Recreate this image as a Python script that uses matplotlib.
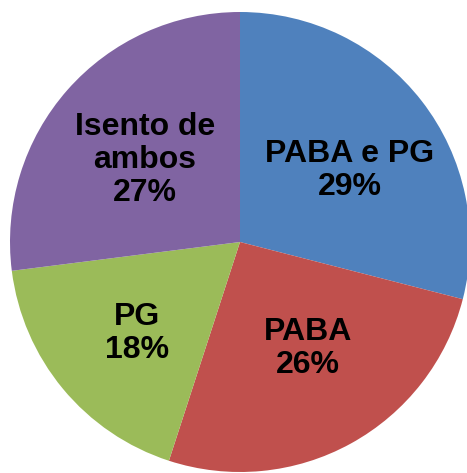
import matplotlib.pyplot as plt

plt.rcParams['font.family'] = ['Liberation Sans', 'DejaVu Sans']

categories = ["PABA e PG", "PABA", "PG", "Isento de\nambos"]
values = [29, 26, 18, 27]
colors = ["#4F81BD", "#C0504D", "#9BBB59", "#8064A2"]

# label centres in axes data units (pie radius = 1)
label_pos = [(0.478, 0.31), (0.296, -0.465), (-0.448, -0.396), (-0.413, 0.357)]

W, H, DPI = 467, 473, 100
cx, cy, R = 240, 242, 230  # pie centre and radius in pixels (from top-left)

fig = plt.figure(figsize=(W / DPI, H / DPI), dpi=DPI)
ax = fig.add_axes([0, 0, 1, 1])
ax.pie(values, colors=colors, startangle=90, counterclock=False,
       radius=1, wedgeprops=dict(linewidth=0))

for cat, val, (x, y) in zip(categories, values, label_pos):
    ax.text(x, y, f"{cat}\n{val}%", ha="center", va="center",
            fontsize=23, fontweight="bold", color="black", linespacing=1.13)

ax.set_xlim(-cx / R, (W - cx) / R)
ax.set_ylim(-(H - cy) / R, cy / R)
ax.set_aspect("auto")
ax.axis("off")

fig.savefig("out.png", dpi=DPI)
